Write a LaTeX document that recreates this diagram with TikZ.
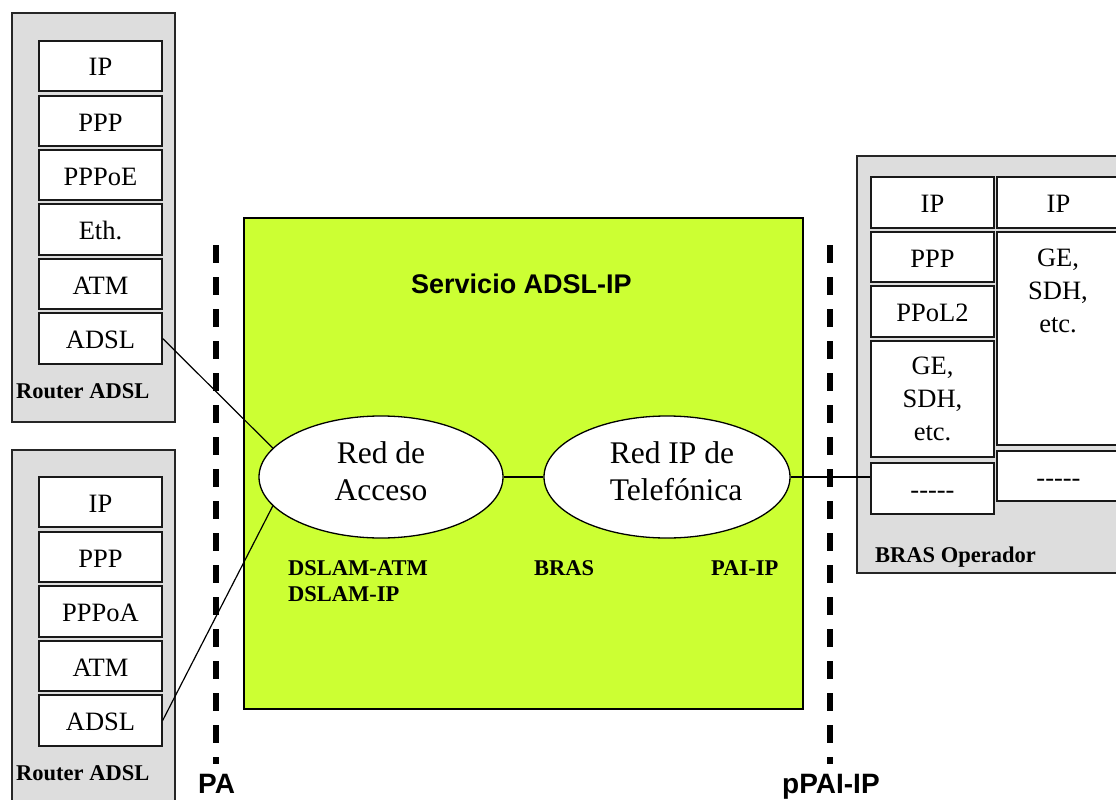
\documentclass[tikz,border=0pt]{standalone}
\usepackage{fontspec}
\setmainfont{Liberation Serif}
\newfontfamily\arialfont{Liberation Sans}
\usetikzlibrary{shapes.geometric,calc}
\definecolor{panelgrey}{HTML}{DDDDDD}
\definecolor{svcgreen}{HTML}{CCFF33}
\tikzset{
  x=1pt,y=-1pt,
  panel/.style={draw=black!85,line width=1.2pt,fill=panelgrey},
  layer/.style={draw=black!90,line width=1.3pt,fill=white,inner sep=0pt,minimum width=123pt,align=center,font=\fontsize{26.5}{33}\selectfont},
  cloud/.style={ellipse,draw=black,line width=1.3pt,fill=white,inner sep=0pt},
  cloudtext/.style={inner sep=0pt,align=left,font=\fontsize{31.5}{37}\selectfont},
  wire/.style={draw=black,line width=1.2pt},
  cut/.style={draw=black,line width=6pt,dash pattern=on 18pt off 14pt},
  tag/.style={inner sep=0pt,anchor=base west,font=\fontsize{22.5}{26}\selectfont\bfseries},
  bigtag/.style={inner sep=0pt,anchor=base west,font=\arialfont\fontsize{27}{30}\selectfont\bfseries},
}
\newcommand{\layerbox}[6]{% name, xmin, ytop, ybot, text, options
  \node[layer,text height=20pt,text depth=0pt,#6,minimum height={#4-#3}] (#1) at ({#2+61.5},{(#3+#4)/2}) {#5};}
\newcommand{\rest}{-{}-{}-{}-{}-}
\begin{document}
\begin{tikzpicture}
\useasboundingbox (0,0) rectangle (1116,800);
\clip (0,0) rectangle (1116,800);
\fill[white] (0,0) rectangle (1116,800);
% panels
\path[panel] (12,13) rectangle (175,422);
\path[panel] (12,450) rectangle (175,810);
\path[panel] (857,156) rectangle (1130,573);
\path[draw=black,line width=1.3pt,fill=svcgreen] (244,218) rectangle (803,709);
% cut lines
\coordinate (pat) at (216,245);
\coordinate (pab) at (216,764);
\coordinate (ppt) at (830,245);
\coordinate (ppb) at (830,764);
\draw[cut] (pat) -- (pab);
\draw[cut] (ppt) -- (ppb);
% router 1
\layerbox{a1}{39}{41}{91}{IP}{}
\layerbox{a2}{39}{96}{146}{PPP}{}
\layerbox{a3}{39}{150}{200}{PPPoE}{}
\layerbox{a4}{39}{204}{255}{Eth.}{}
\layerbox{a5}{39}{259}{309}{ATM}{}
\layerbox{a6}{39}{313}{364}{ADSL}{}
% router 2
\layerbox{b1}{39}{477}{527}{IP}{}
\layerbox{b2}{39}{532}{582}{PPP}{}
\layerbox{b3}{39}{586}{637}{PPPoA}{}
\layerbox{b4}{39}{641}{691}{ATM}{}
\layerbox{b5}{39}{695}{746}{ADSL}{}
% BRAS
\layerbox{c1}{871}{177}{228}{IP}{}
\layerbox{c2}{871}{232}{282}{PPP}{}
\layerbox{c3}{871}{286}{337}{PPoL2}{}
\layerbox{c4}{871}{341}{457}{GE,\\SDH,\\etc.}{text height={},text depth={}}
\layerbox{c5}{871}{463}{514}{\rest}{}
\layerbox{d1}{997}{177}{228}{IP}{}
\layerbox{d2}{997}{232}{445}{}{}
\node[inner sep=0pt,align=center,font=\fontsize{26.5}{33}\selectfont] (d2t) at (1058,291) {GE,\\SDH,\\etc.};
\layerbox{d3}{997}{451}{501}{\rest}{}
% clouds
\node[cloud,minimum width=244pt,minimum height=122pt] (e1) at (381,477) {};
\node[cloud,minimum width=246pt,minimum height=122pt] (e2) at (667,477) {};
\node[cloudtext,align=center] (t1) at (381,471) {Red de\\Acceso};
\node[cloudtext] (t2) at (676,471) {Red IP de\\Telefónica};
% connectors
\draw[wire] (a6.east) -- (e1.165);
\draw[wire] (b5.east) -- (e1.195);
\draw[wire] (e1) -- (e2);
\draw[wire] (e2.east) -- (e2.east -| c5.west);
% labels
\node[tag] (l1) at (16,398) {Router ADSL};
\node[tag] (l2) at (16,780) {Router ADSL};
\node[tag] (l3) at (875,562) {BRAS Operador};
\node[tag] (l4) at (288,575) {DSLAM-ATM};
\node[tag] (l5) at (288,601) {DSLAM-IP};
\node[tag] (l6) at (534,575) {BRAS};
\node[tag] (l7) at (711,575) {PAI-IP};
\node[bigtag] (s) at (411,293) {Servicio ADSL-IP};
\node[bigtag,font=\arialfont\fontsize{28}{30}\selectfont\bfseries] (pa) at (198,793.5) {PA};
\node[bigtag,font=\arialfont\fontsize{28}{30}\selectfont\bfseries] (ppai) at (782,793.5) {pPAI-IP};
\end{tikzpicture}
\end{document}
